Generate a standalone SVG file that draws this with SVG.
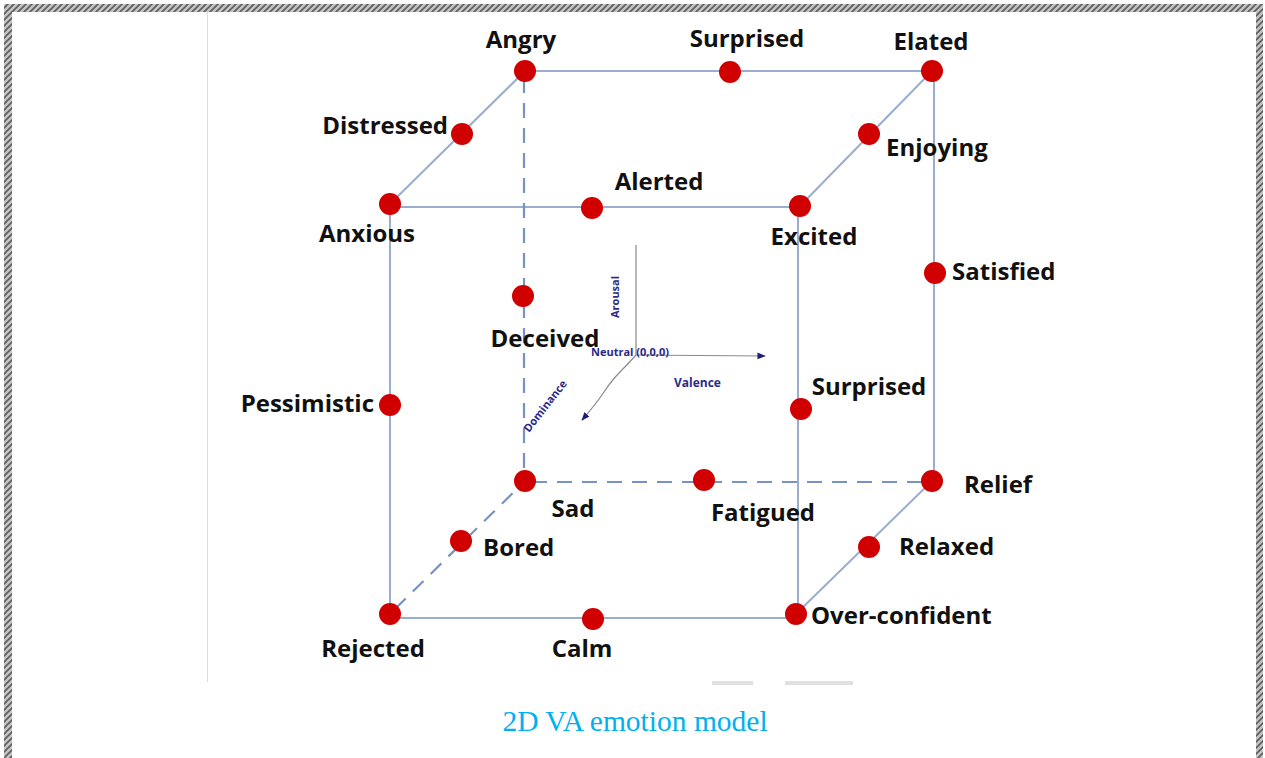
<svg xmlns="http://www.w3.org/2000/svg" width="1265" height="758" viewBox="0 0 1265 758">
  <defs>
    <pattern id="hatch" width="6" height="6" patternUnits="userSpaceOnUse">
      <rect width="6" height="6" fill="#c4c4c4"/>
      <path d="M-1.5,7.5 L7.5,-1.5 M-1.5,1.5 L1.5,-1.5 M4.5,7.5 L7.5,4.5" stroke="#5c5c5c" stroke-width="1.6"/>
    </pattern>
    <marker id="arr" viewBox="0 0 10 10" refX="9" refY="5" markerWidth="7" markerHeight="7" orient="auto">
      <path d="M0,1 L10,5 L0,9 Z" fill="#1f1f7a"/>
    </marker>
    <style>
      .edge { stroke: #9aadcc; stroke-width: 2; fill: none; }
      .dash { stroke: #7892c4; stroke-width: 2.2; fill: none; stroke-dasharray: 15 10; }
      .dot { fill: #d00000; }
      .lbl { font-family: "Open Sans", "Liberation Sans", sans-serif; font-weight: 700; font-size: 24px; fill: #111; }
      .ax { font-family: "Open Sans", "Liberation Sans", sans-serif; font-weight: 700; fill: #2a2a8a; }
      .axis { stroke: #8a8a8a; stroke-width: 1.2; fill: none; }
    </style>
  </defs>

  <rect width="1265" height="758" fill="#ffffff"/>

  <!-- page frame -->
  <g id="frame">
    <rect x="4" y="4" width="1259" height="8" fill="url(#hatch)"/>
    <rect x="4" y="4" width="8" height="754" fill="url(#hatch)"/>
    <rect x="1256" y="4" width="7" height="754" fill="url(#hatch)"/>
    <line x1="207.5" y1="12" x2="207.5" y2="682" stroke="#f3ef3a" stroke-width="1"/>
    <rect x="712" y="681" width="41" height="4" fill="#e0e0e0"/>
    <rect x="785" y="681" width="68" height="4" fill="#e0e0e0"/>
  </g>

  <!-- cube edges -->
  <g id="connectors">
    <line class="edge" x1="525" y1="71" x2="932" y2="71"/>
    <line class="edge" x1="934" y1="71" x2="934" y2="481"/>
    <line class="edge" x1="390" y1="207" x2="800" y2="207"/>
    <line class="edge" x1="390" y1="207" x2="390" y2="614"/>
    <line class="edge" x1="390" y1="618" x2="796" y2="618"/>
    <line class="edge" x1="798" y1="207" x2="798" y2="614"/>
    <line class="edge" x1="390" y1="204" x2="525" y2="71"/>
    <line class="edge" x1="800" y1="206" x2="932" y2="71"/>
    <line class="edge" x1="796" y1="614" x2="932" y2="481"/>
    <line class="dash" x1="524" y1="78" x2="524" y2="481"/>
    <line class="dash" x1="532" y1="482" x2="932" y2="482"/>
    <line class="dash" x1="395" y1="609" x2="525" y2="481"/>
  </g>

  <!-- axes -->
  <g id="axes">
    <line class="axis" x1="636" y1="245" x2="636" y2="355"/>
    <line class="axis" x1="636" y1="355" x2="765" y2="356" marker-end="url(#arr)"/>
    <path class="axis" d="M636,355 Q628,364 620,372 T604,392 T582,420" marker-end="url(#arr)"/>
    <text class="ax" font-size="11" transform="translate(619,318) rotate(-90)">Arousal</text>
    <text class="ax" font-size="11" x="591" y="356" font-weight="400">Neutral (0,0,0)</text>
    <text class="ax" font-size="12" x="674" y="387">Valence</text>
    <text class="ax" font-size="11" transform="translate(529,433) rotate(-52)">Dominance</text>
  </g>

  <!-- emotion nodes -->
  <g id="angry"><circle class="dot" cx="525" cy="71" r="11"/><text class="lbl" x="521" y="48" text-anchor="middle">Angry</text></g>
  <g id="surprised-top"><circle class="dot" cx="730" cy="72" r="11"/><text class="lbl" x="747" y="47" text-anchor="middle">Surprised</text></g>
  <g id="elated"><circle class="dot" cx="932" cy="71" r="11"/><text class="lbl" x="931" y="50" text-anchor="middle">Elated</text></g>
  <g id="distressed"><circle class="dot" cx="462" cy="134" r="11"/><text class="lbl" x="448" y="134" text-anchor="end">Distressed</text></g>
  <g id="enjoying"><circle class="dot" cx="869" cy="134" r="11"/><text class="lbl" x="886" y="156">Enjoying</text></g>
  <g id="anxious"><circle class="dot" cx="390" cy="204" r="11"/><text class="lbl" x="367" y="242" text-anchor="middle">Anxious</text></g>
  <g id="alerted"><circle class="dot" cx="592" cy="208" r="11"/><text class="lbl" x="659" y="190" text-anchor="middle">Alerted</text></g>
  <g id="excited"><circle class="dot" cx="800" cy="206" r="11"/><text class="lbl" x="814" y="245" text-anchor="middle">Excited</text></g>
  <g id="satisfied"><circle class="dot" cx="935" cy="273" r="11"/><text class="lbl" x="952" y="280">Satisfied</text></g>
  <g id="deceived"><circle class="dot" cx="523" cy="296" r="11"/><text class="lbl" x="545" y="347" text-anchor="middle">Deceived</text></g>
  <g id="pessimistic"><circle class="dot" cx="390" cy="405" r="11"/><text class="lbl" x="374" y="412" text-anchor="end">Pessimistic</text></g>
  <g id="surprised-mid"><circle class="dot" cx="801" cy="409" r="11"/><text class="lbl" x="869" y="395" text-anchor="middle">Surprised</text></g>
  <g id="sad"><circle class="dot" cx="525" cy="481" r="11"/><text class="lbl" x="573" y="517" text-anchor="middle">Sad</text></g>
  <g id="fatigued"><circle class="dot" cx="704" cy="480" r="11"/><text class="lbl" x="763" y="521" text-anchor="middle">Fatigued</text></g>
  <g id="relief"><circle class="dot" cx="932" cy="481" r="11"/><text class="lbl" x="964" y="493">Relief</text></g>
  <g id="bored"><circle class="dot" cx="461" cy="541" r="11"/><text class="lbl" x="483" y="556">Bored</text></g>
  <g id="relaxed"><circle class="dot" cx="869" cy="547" r="11"/><text class="lbl" x="899" y="555">Relaxed</text></g>
  <g id="rejected"><circle class="dot" cx="390" cy="614" r="11"/><text class="lbl" x="373" y="657" text-anchor="middle">Rejected</text></g>
  <g id="calm"><circle class="dot" cx="593" cy="619" r="11"/><text class="lbl" x="582" y="657" text-anchor="middle">Calm</text></g>
  <g id="over-confident"><circle class="dot" cx="796" cy="614" r="11"/><text class="lbl" x="811" y="624">Over-confident</text></g>

  <!-- caption -->
  <text x="635" y="731" text-anchor="middle" font-family="'Liberation Serif', 'Times New Roman', serif" font-size="29.5" fill="#00b0f0">2D VA emotion model</text>
</svg>
